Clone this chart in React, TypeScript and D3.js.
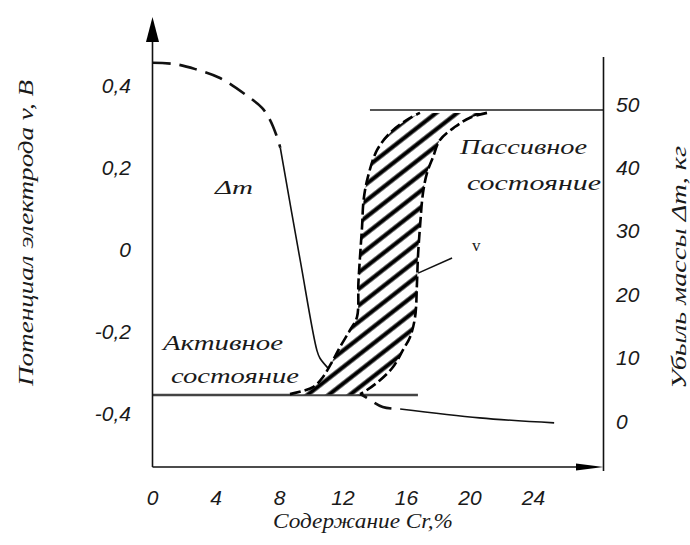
import React from 'react';
import * as d3 from 'd3';

const W = 690;
const H = 545;

// Axis ticks
const xTicks = [0, 4, 8, 12, 16, 20, 24];
const xTickLabels = ['0', '4', '8', '12', '16', '20', '24'];
const vTicks = [0.4, 0.2, 0, -0.2, -0.4];
const vTickLabels = ['0,4', '0,2', '0', '-0,2', '-0,4'];
const mTicks = [50, 40, 30, 20, 10, 0];
const mTickLabels = ['50', '40', '30', '20', '10', '0'];

// Δm curve (Cr %, kg) – right axis
const dmCr = [0, 1.4, 2.7, 4.25, 5.9, 6.9, 7.4, 7.8, 8.05, 9.3, 10.35, 10.55, 11.3, 12.1, 13.2, 14.5, 15.6, 20.6, 25.3];
const dmKg = [56.5, 56.3, 55.5, 54.1, 51.4, 49.4, 47.5, 45.1, 43.1, 25.4, 11.2, 9.9, 7.7, 5.2, 4.1, 2.2, 1.9, 0.5, -0.3];
// segments of the Δm curve: [startIndex, endIndex, dashed]
const dmSegments: [number, number, boolean][] = [
  [0, 8, true],
  [8, 12, false],
  [12, 16, true],
  [16, 18, false],
];

// Potential band v (Cr %, V) – left axis
const bandLeftCr = [8.66, 10.11, 10.74, 11.37, 11.81, 12.44, 12.88, 12.97, 13.07, 13.2, 13.3, 13.57, 14.14, 14.96, 16.03, 16.85];
const bandLeftV = [-0.354, -0.337, -0.312, -0.271, -0.239, -0.198, -0.166, -0.083, -0.02, 0.054, 0.12, 0.176, 0.241, 0.283, 0.315, 0.332];
const bandRightCr = [21.07, 20.0, 19.06, 18.11, 17.67, 17.29, 17.04, 16.85, 16.72, 16.66, 16.54, 16.22, 15.78, 15.15, 14.33, 13.51, 13.07];
const bandRightV = [0.332, 0.32, 0.298, 0.266, 0.224, 0.185, 0.137, 0.054, -0.02, -0.083, -0.166, -0.215, -0.246, -0.288, -0.32, -0.344, -0.354];

// Reference levels
const passiveLevelV = 0.339;
const passiveFromCr = 13.7;
const activeLevelV = -0.356;
const activeToCr = 16.72;

// leader line for "v"
const vLeaderCr = [16.73, 18.87];
const vLeaderV = [-0.059, -0.022];

const x = d3.scaleLinear().domain([0, 24]).range([152.5, 533.5]);
const yV = d3.scaleLinear().domain([0.4, -0.4]).range([85, 413]);
const yM = d3.scaleLinear().domain([0, 50]).range([421, 104]);

const X0 = 152.5;
const XR = 603.5;
const YB = 467;

const numFont = '"Liberation Sans", Arial, sans-serif';
const txtFont = '"Liberation Serif", "Times New Roman", serif';
const ink = '#1a1a1a';

export default function App() {
  const dmPts = dmCr.map((c, i) => [x(c), yM(dmKg[i])] as [number, number]);
  const lineGen = d3.line<[number, number]>().curve(d3.curveCatmullRom.alpha(0.5));

  const leftPts = bandLeftCr.map((c, i) => [x(c), yV(bandLeftV[i])] as [number, number]);
  const rightPts = bandRightCr.map((c, i) => [x(c), yV(bandRightV[i])] as [number, number]);
  const leftPath = lineGen(leftPts) || '';
  const rightPath = lineGen(rightPts) || '';
  const bandPath = leftPath + 'L' + rightPath.slice(1) + 'Z';

  return (
    <svg width={W} height={H} style={{ position: 'absolute', left: 0, top: 0, background: '#fff' }}>
      <defs>
        <pattern id="hatch" patternUnits="userSpaceOnUse" width={12} height={13} patternTransform="rotate(-38)">
          <rect width={12} height={13} fill="#fff" />
          <line x1={0} x2={12} y1={6.5} y2={6.5} stroke="#000" strokeWidth={4.2} />
        </pattern>
      </defs>

      {/* reference levels */}
      <line x1={x(passiveFromCr)} x2={XR} y1={yV(passiveLevelV)} y2={yV(passiveLevelV)} stroke="#555" strokeWidth={2} />
      <line x1={X0} x2={x(activeToCr)} y1={yV(activeLevelV)} y2={yV(activeLevelV)} stroke="#444" strokeWidth={2.5} />

      {/* Δm curve */}
      {dmSegments.map(([a, b, dashed], i) => (
        <path
          key={i}
          d={lineGen(dmPts.slice(a, b + 1)) || ''}
          fill="none"
          stroke="#111"
          strokeWidth={dashed ? 2.6 : 1.6}
          strokeDasharray={dashed ? '18 9' : undefined}
        />
      ))}

      {/* hatched band */}
      <path d={bandPath} fill="url(#hatch)" stroke="none" />
      <path d={leftPath} fill="none" stroke="#000" strokeWidth={2.6} strokeDasharray="11 4" />
      <path d={rightPath} fill="none" stroke="#000" strokeWidth={2.6} strokeDasharray="11 4" />

      {/* leader for v */}
      <line x1={x(vLeaderCr[0])} y1={yV(vLeaderV[0])} x2={x(vLeaderCr[1])} y2={yV(vLeaderV[1])} stroke="#111" strokeWidth={1.5} />

      {/* axes */}
      <line x1={X0} x2={X0} y1={40} y2={YB} stroke="#111" strokeWidth={1.6} />
      <polygon points={`${X0},17 ${X0 - 6.5},42 ${X0 + 6.5},42`} fill="#000" />
      <line x1={X0} x2={580} y1={YB} y2={YB} stroke="#111" strokeWidth={1.6} />
      <polygon points={`${XR},${YB} 576,${YB - 3.5} 576,${YB + 3.5}`} fill="#000" />
      <line x1={XR} x2={XR} y1={57} y2={471} stroke="#111" strokeWidth={1.6} />

      {/* left ticks */}
      {vTicks.map((v, i) => (
        <text key={i} x={131} y={yV(v)} dy="0.36em" textAnchor="end" fontFamily={numFont} fontStyle="italic" fontSize={21} fill={ink}>
          {vTickLabels[i]}
        </text>
      ))}
      {/* right ticks */}
      {mTicks.map((m, i) => (
        <text key={i} x={616} y={yM(m)} dy="0.36em" textAnchor="start" fontFamily={numFont} fontStyle="italic" fontSize={21} fill={ink}>
          {mTickLabels[i]}
        </text>
      ))}
      {/* bottom ticks */}
      {xTicks.map((c, i) => (
        <text key={i} x={x(c)} y={497} dy="0.36em" textAnchor="middle" fontFamily={numFont} fontStyle="italic" fontSize={21} fill={ink}>
          {xTickLabels[i]}
        </text>
      ))}

      {/* axis titles */}
      <text x={273} y={528} textLength={180} lengthAdjust="spacingAndGlyphs" fontFamily={txtFont} fontStyle="italic" fontSize={20} fill={ink}>
        Содержание Cr,%
      </text>
      <text transform="translate(33,386) rotate(-90)" textLength={306} lengthAdjust="spacingAndGlyphs" fontFamily={txtFont} fontStyle="italic" fontSize={21} fill={ink}>
        Потенциал электрода v, В
      </text>
      <text transform="translate(686,389) rotate(-90)" textLength={243} lengthAdjust="spacingAndGlyphs" fontFamily={txtFont} fontStyle="italic" fontSize={21} fill={ink}>
        Убыль массы Δm, кг
      </text>

      {/* annotations */}
      <text x={215} y={194} textLength={38} lengthAdjust="spacingAndGlyphs" fontFamily={txtFont} fontStyle="italic" fontSize={19} fill={ink}>
        Δm
      </text>
      <text x={472} y={251} fontFamily={txtFont} fontSize={17} fill={ink}>
        v
      </text>
      <text x={460} y={154} textLength={127} lengthAdjust="spacingAndGlyphs" fontFamily={txtFont} fontStyle="italic" fontSize={20} fill={ink}>
        Пассивное
      </text>
      <text x={467} y={190} textLength={134} lengthAdjust="spacingAndGlyphs" fontFamily={txtFont} fontStyle="italic" fontSize={20} fill={ink}>
        состояние
      </text>
      <text x={163} y={350} textLength={120} lengthAdjust="spacingAndGlyphs" fontFamily={txtFont} fontStyle="italic" fontSize={20} fill={ink}>
        Активное
      </text>
      <text x={171} y={383} textLength={128} lengthAdjust="spacingAndGlyphs" fontFamily={txtFont} fontStyle="italic" fontSize={20} fill={ink}>
        состояние
      </text>
    </svg>
  );
}
